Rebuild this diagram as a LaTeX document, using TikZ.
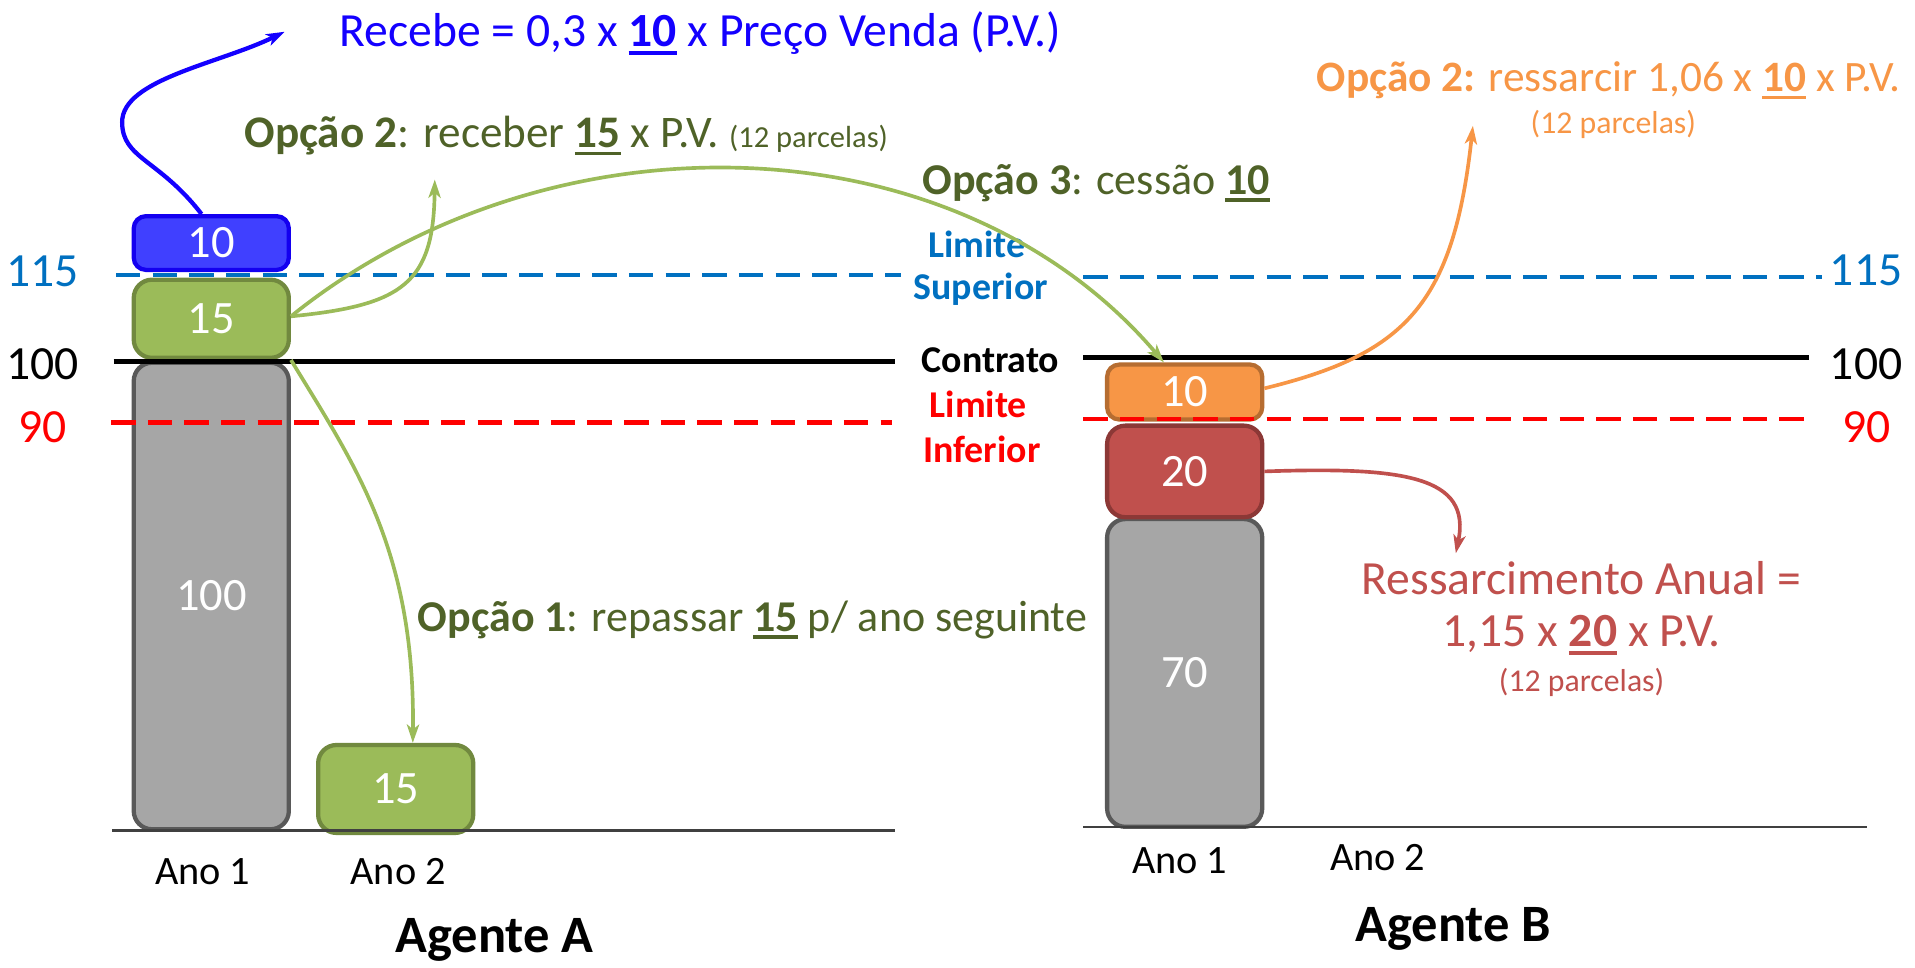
\documentclass[tikz,border=0pt]{standalone}
\usepackage{fontspec}
\setmainfont{Carlito}
\usetikzlibrary{arrows.meta}
\newcommand\myfs[1]{\fontsize{#1}{#1}\selectfont}
\newcommand\myul[1]{\setbox0\hbox{#1}\rlap{\rule[-0.17em]{\wd0}{0.08em}}\box0\relax}
\definecolor{olivedk}{HTML}{4F6228}
\definecolor{grn}{HTML}{9BBB59}
\definecolor{grnb}{HTML}{71893F}
\definecolor{org}{HTML}{F79646}
\definecolor{orgb}{HTML}{B66D31}
\definecolor{rd}{HTML}{C0504D}
\definecolor{rdb}{HTML}{8C3836}
\definecolor{lblue}{HTML}{0070C0}
\definecolor{bfill}{HTML}{4040FF}
\definecolor{bbord}{HTML}{1400F0}
\definecolor{pblue}{HTML}{1400FF}
\definecolor{gfill}{HTML}{A6A6A6}
\definecolor{gbord}{HTML}{595959}
\definecolor{pred}{HTML}{FF0000}
\begin{document}
\begin{tikzpicture}[x=1pt,y=-1pt,
  bar/.style={draw, line width=3.5pt, rounded corners=15pt, minimum width=127pt, inner sep=0pt, text=white, font=\myfs{38}},
  lbl/.style={inner sep=0pt, font=\myfs{39}},
  side/.style={inner sep=0pt, font=\myfs{31}\bfseries},
  txt/.style={inner sep=0pt, anchor=base west},
  dline/.style={line width=3.5pt, dash pattern=on 20pt off 10pt},
  ground/.style={line width=1.8pt, draw=black!75},
  arr/.style={line width=3pt, -{Stealth[length=15pt,width=10pt,inset=4pt]}}
]
\useasboundingbox (0,0) rectangle (1568,792);

% ---------- Agent A boxes
\node[bar, fill=gfill, draw=gbord, minimum height=382pt] (a100) at (173,488) {100};
\node[bar, fill=grn, draw=grnb, minimum height=64pt] (a15) at (173,261) {15};
\node[bar, fill=bfill, draw=bbord, minimum height=44pt, rounded corners=10pt] (a10) at (173,199) {10};
\node[bar, fill=grn, draw=grnb, minimum height=72pt] (a2) at (324,646) {15};

% ---------- Agent B boxes
\node[bar, fill=gfill, draw=gbord, minimum height=252pt] (b70) at (970,551) {70};
\node[bar, fill=rd, draw=rdb, minimum height=75pt] (b20) at (970,386) {20};
\node[bar, fill=org, draw=orgb, minimum height=45pt, rounded corners=10pt] (b10) at (970,321) {10};

% ---------- ground lines
\draw[ground] (92,680) -- (733,680);
\draw[ground] (887,677) -- (1529,677);

% ---------- reference lines
\draw[dline, lblue] (95,225) -- (738,225);
\draw[dline, lblue] (887,227) -- (1492,227);
\draw[line width=4pt, black] (93,296) -- (733,296);
\draw[line width=4pt, black] (887,293) -- (1481,293);
\draw[dline, pred] (91,346) -- (730,346);
\draw[dline, pred] (887,343) -- (1481,343);

% ---------- level labels
\node[lbl, text=lblue] (l115a) at (35,222) {115};
\node[lbl] (l100a) at (35,298) {100};
\node[lbl, text=pred] (l90a) at (35,350) {90};
\node[lbl, text=lblue] (l115b) at (1528,221) {115};
\node[lbl] (l100b) at (1528,298) {100};
\node[lbl, text=pred] (l90b) at (1528,350) {90};

% ---------- middle labels
\node[side, text=lblue] (limS1) at (800,200) {Limite};
\node[side, text=lblue] (limS2) at (803,237) {Superior};
\node[side] (contr) at (811,295) {Contrato};
\node[side, text=pred] (limI1) at (801,331) {Limite};
\node[side, text=pred] (limI2) at (804,368) {Inferior};

% ---------- axis labels
\node[inner sep=0pt, font=\myfs{33}] (ano1a) at (166,714) {Ano 1};
\node[inner sep=0pt, font=\myfs{33}] (ano2a) at (326,714) {Ano 2};
\node[inner sep=0pt, font=\myfs{33}] (ano1b) at (966,705) {Ano 1};
\node[inner sep=0pt, font=\myfs{33}] (ano2b) at (1128,702) {Ano 2};
\node[inner sep=0pt, font=\myfs{43}\bfseries] (agA) at (405,770) {Agente A};
\node[inner sep=0pt, font=\myfs{43}\bfseries] (agB) at (1190,761) {Agente B};

% ---------- texts
\node[txt, text=pblue, font=\myfs{39}] (recebe) at (278,38) {Recebe = 0,3 x \myul{\bfseries 10} x Preço Venda (P.V.)};
\node[txt, text=olivedk, font=\myfs{37}] (op2a) at (200,121) {{\bfseries Opção 2}: receber \myul{\bfseries 15} x P.V. {\myfs{25}(12 parcelas)}};
\node[txt, text=olivedk, font=\myfs{36}] (op3) at (755,159) {{\bfseries Opção 3}: cessão \myul{\bfseries 10}};
\node[txt, text=olivedk, font=\myfs{36}] (op1) at (342,517) {{\bfseries Opção 1}: repassar \myul{\bfseries 15} p/ ano seguinte};
\node[txt, text=org, font=\myfs{35.5}] (op2b) at (1078,75) {{\bfseries Opção 2:} ressarcir 1,06 x \myul{\bfseries 10} x P.V.};
\node[inner sep=0pt, anchor=base, text=org, font=\myfs{26}] (op2bp) at (1321,109) {(12 parcelas)};
\node[inner sep=0pt, text=rd, font=\myfs{39}] (ress1) at (1295,473) {Ressarcimento Anual =};
\node[inner sep=0pt, text=rd, font=\myfs{39}] (ress2) at (1295,520) {1,15 x \myul{\bfseries 20} x P.V.};
\node[inner sep=0pt, text=rd, font=\myfs{26}] (ress3) at (1295,559) {(12 parcelas)};

% ---------- arrow end points
\coordinate (eBlue) at (233,26);
\coordinate (eOp2a) at (356,147);
\coordinate (eOrg) at (1206,103);
\coordinate (eRed) at (1192,453);
\coordinate (cMid) at (100,100);

% ---------- arrows
\draw[arr, line width=3.5pt, pblue] ([xshift=-8pt]a10.north) .. controls (130,130) and (100,130) .. (cMid)
   .. controls (100,65) and (180,52) .. (eBlue);
\draw[arr, grn] ([yshift=2pt]a15.east) .. controls (330,250) and (355,232) .. (eOp2a);
\draw[arr, grn] ([yshift=2pt]a15.east) .. controls (450,88) and (782,96) .. ([xshift=-17pt]b10.north);
\draw[arr, grn] (a15.south east) .. controls (290,380) and (340,450) .. ([xshift=14pt]a2.north);
\draw[arr, org] ([yshift=3pt]b10.east) .. controls (1150,290) and (1190,250) .. (eOrg);
\draw[arr, rd] (b20.east) .. controls (1150,382) and (1205,390) .. (eRed);
\end{tikzpicture}
\end{document}
